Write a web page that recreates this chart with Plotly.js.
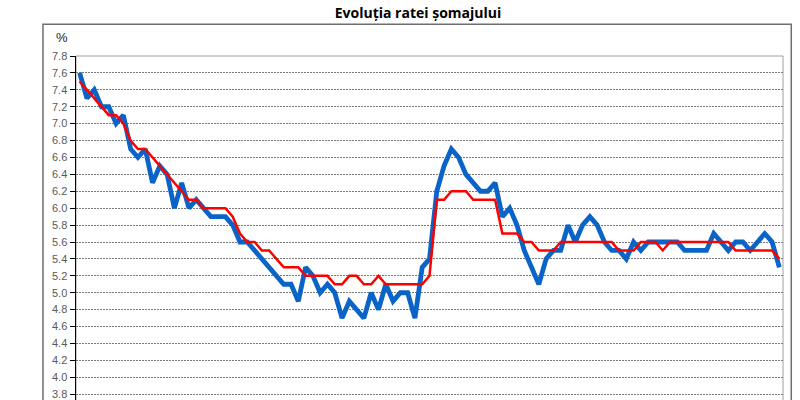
<!DOCTYPE html>
<html>
<head>
<meta charset="utf-8">
<script src="https://cdn.plot.ly/plotly-3.0.1.min.js"></script>
<style>html,body{margin:0;padding:0;background:#fff;overflow:hidden;}</style>
</head>
<body>
<div id="chart" style="width:800px;height:460px;"></div>
<script>
const chartTitle = "Evoluția ratei șomajului";
const unitLabel = "%";
const blueValues = [7.6,7.3,7.4,7.2,7.2,7.0,7.1,6.7,6.6,6.7,6.3,6.5,6.4,6.0,6.3,6.0,6.1,6.0,5.9,5.9,
  5.9,5.8,5.6,5.6,5.5,5.4,5.3,5.2,5.1,5.1,4.9,5.3,5.2,5.0,5.1,5.0,4.7,4.9,4.8,4.7,
  5.0,4.8,5.1,4.9,5.0,5.0,4.7,5.3,5.4,6.2,6.5,6.7,6.6,6.4,6.3,6.2,6.2,6.3,5.9,6.0,
  5.8,5.5,5.3,5.1,5.4,5.5,5.5,5.8,5.6,5.8,5.9,5.8,5.6,5.5,5.5,5.4,5.6,5.5,5.6,5.6,
  5.6,5.6,5.6,5.5,5.5,5.5,5.5,5.7,5.6,5.5,5.6,5.6,5.5,5.6,5.7,5.6,5.3];
const redValues = [7.5,7.4,7.3,7.2,7.1,7.1,7.0,6.8,6.7,6.7,6.6,6.5,6.4,6.3,6.2,6.1,6.1,6.0,6.0,6.0,
  6.0,5.9,5.7,5.6,5.6,5.5,5.5,5.4,5.3,5.3,5.3,5.2,5.2,5.2,5.2,5.1,5.1,5.2,5.2,5.1,
  5.1,5.2,5.1,5.1,5.1,5.1,5.1,5.1,5.2,6.1,6.1,6.2,6.2,6.2,6.1,6.1,6.1,6.1,5.7,5.7,
  5.7,5.6,5.6,5.5,5.5,5.5,5.6,5.6,5.6,5.6,5.6,5.6,5.6,5.6,5.5,5.5,5.5,5.6,5.6,5.6,
  5.5,5.6,5.6,5.6,5.6,5.6,5.6,5.6,5.6,5.6,5.5,5.5,5.5,5.5,5.5,5.5,5.4];
const periods = blueValues.map((_, i) => i);
const yTickVals = [3.8,4.0,4.2,4.4,4.6,4.8,5.0,5.2,5.4,5.6,5.8,6.0,6.2,6.4,6.6,6.8,7.0,7.2,7.4,7.6,7.8];

const traces = [
  {x: periods, y: blueValues, type: 'scatter', mode: 'lines',
   line: {color: '#0A64C8', width: 4.8}, hoverinfo: 'skip'},
  {x: periods, y: redValues, type: 'scatter', mode: 'lines',
   line: {color: '#FF0000', width: 2.5}, hoverinfo: 'skip'}
];

const layout = {
  width: 800, height: 460,
  margin: {l: 76, r: 17, t: 56, b: 32},
  paper_bgcolor: '#ffffff', plot_bgcolor: '#ffffff',
  showlegend: false,
  title: {text: '<b>' + chartTitle + '</b>', x: 0.5225, xanchor: 'center', y: 0.971, yanchor: 'middle',
          font: {family: 'Open Sans, Noto Sans, sans-serif', size: 14, color: '#000'}},
  xaxis: {range: [-0.5, 96.5], showgrid: false, zeroline: false, showticklabels: false,
          ticks: '', showline: false, fixedrange: true},
  yaxis: {range: [3.4, 7.8], tickvals: yTickVals, ticktext: yTickVals.map(v => v.toFixed(1)),
          showgrid: true, gridcolor: '#7a7a7a', griddash: '2px,1px', gridwidth: 1,
          zeroline: false, showline: true, linecolor: '#000', linewidth: 1.5,
          ticks: 'outside', ticklen: 5, tickcolor: '#000', tickwidth: 1,
          tickfont: {family: 'Liberation Sans, Arial, sans-serif', size: 11, color: '#595959'},
          fixedrange: true},
  shapes: [
    {type: 'rect', xref: 'paper', yref: 'paper', x0: -0.0467, x1: 1.0117, y0: -0.3, y1: 1.0855,
     line: {color: '#6e6e6e', width: 1.5}, fillcolor: 'rgba(0,0,0,0)', layer: 'below'},
    {type: 'rect', xref: 'paper', yref: 'paper', x0: 0, x1: 1, y0: 0, y1: 1,
     line: {color: '#a0a0a0', width: 1}, fillcolor: 'rgba(0,0,0,0)', layer: 'below'}
  ],
  annotations: [
    {text: unitLabel, xref: 'paper', yref: 'paper', x: -0.02, y: 1.05, xanchor: 'center', yanchor: 'middle',
     showarrow: false, font: {family: 'Liberation Sans, Arial, sans-serif', size: 13, color: '#222'}}
  ]
};

Plotly.newPlot('chart', traces, layout, {displayModeBar: false, staticPlot: true});
</script>
</body>
</html>
